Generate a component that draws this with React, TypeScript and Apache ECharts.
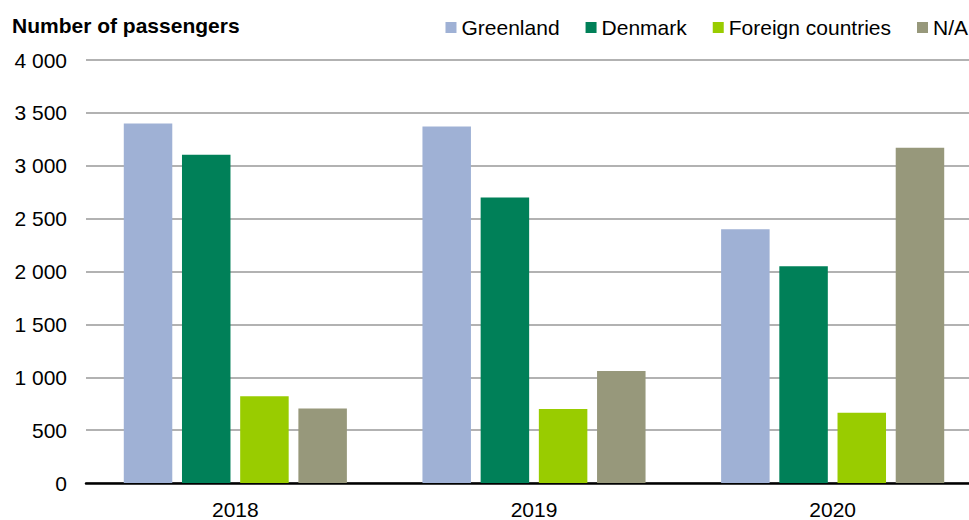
import React, { useEffect, useRef } from "react";
import * as echarts from "echarts";

const years = ["2018", "2019", "2020"];
const greenland = [3400, 3370, 2400];
const denmark = [3105, 2700, 2050];
const foreign = [820, 700, 665];
const na = [705, 1060, 3170];
const seriesNames = ["Greenland", "Denmark", "Foreign countries", "N/A"];
const colors = ["#9FB1D5", "#008058", "#99CC00", "#97987B"];

const FONT = "'Liberation Sans', Arial, sans-serif";

export default function App() {
  const ref = useRef<HTMLDivElement>(null);
  useEffect(() => {
    document.body.style.margin = "0";
    document.body.style.overflow = "hidden";
    const chart = echarts.init(ref.current!, null, { renderer: "svg" });
    const data = [greenland, denmark, foreign, na];
    chart.setOption({
      animation: false,
      textStyle: { fontFamily: FONT },
      title: {
        text: "Number of passengers",
        left: 7,
        top: 10,
        textStyle: { fontFamily: FONT, fontSize: 21, fontWeight: "bold", color: "#000" },
      },
      legend: {
        right: 14,
        top: 17,
        padding: 0,
        icon: "rect",
        itemWidth: 11,
        itemHeight: 11,
        itemGap: 26,
        textStyle: { fontFamily: FONT, fontSize: 21, color: "#000" },
        data: seriesNames,
      },
      grid: { left: 86, right: 0, top: 60, bottom: 35, containLabel: false },
      xAxis: {
        type: "category",
        data: years,
        axisLine: { show: true, lineStyle: { color: "#000", width: 2.5 } },
        axisTick: { show: false },
        axisLabel: { fontFamily: FONT, fontSize: 21, color: "#000", margin: 16 },
      },
      yAxis: {
        type: "value",
        min: 0,
        max: 4000,
        interval: 500,
        axisLine: { show: false },
        axisTick: { show: false },
        axisLabel: {
          fontFamily: FONT,
          fontSize: 21,
          color: "#000",
          margin: 19,
          formatter: (v: number) => String(v).replace(/\B(?=(\d{3})+(?!\d))/g, " "),
        },
        splitLine: { lineStyle: { color: "#999", width: 1.5 } },
      },
      series: seriesNames.map((name, i) => ({
        name,
        type: "bar",
        data: data[i],
        barWidth: 48.5,
        barGap: "20%",
        itemStyle: { color: colors[i] },
      })),
    });
    return () => chart.dispose();
  }, []);
  return (
    <div style={{ width: 969, height: 520, overflow: "hidden" }}>
      <div ref={ref} style={{ width: 982, height: 520 }} />
    </div>
  );
}
